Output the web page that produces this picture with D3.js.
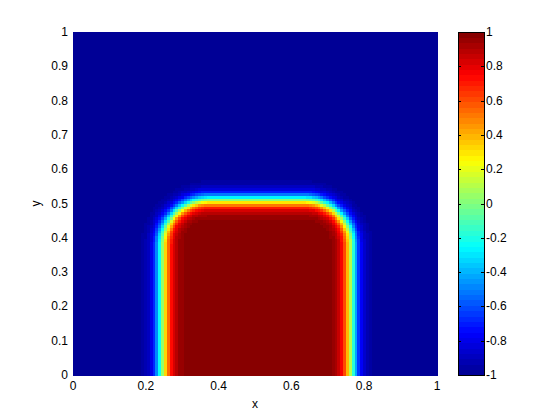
<!DOCTYPE html>
<head>
  <meta charset="utf-8">
  <style>
    body { margin: 0; background: #fff; font-family: "Liberation Sans", Arial, sans-serif; }
    svg text { font-size: 12px; fill: #000; }
  </style>
</head>
<svg width="560" height="420"></svg>
<script src="https://d3js.org/d3.v7.min.js"></script>
<script>
  // tick labels
  const xTicks = [0, 0.2, 0.4, 0.6, 0.8, 1];
  const yTicks = [0, 0.1, 0.2, 0.3, 0.4, 0.5, 0.6, 0.7, 0.8, 0.9, 1];
  const cbarTicks = [-1, -0.8, -0.6, -0.4, -0.2, 0, 0.2, 0.4, 0.6, 0.8, 1];

  // jet colormap anchor points (value -> colour)
  const jetValues = [-1, -0.75, -0.25, 0.25, 0.75, 1];
  const jetColors = ["#00008f", "#0000ff", "#00ffff", "#ffff00", "#ff0000", "#800000"];

  // shape of the field (phase = +1 inside, -1 outside)
  const boxLeft = 0.245, boxRight = 0.765, boxTop = 0.512, boxBottom = -0.5;
  const cornerRadius = 0.13;
  const interfaceWidth = 0.027;
  const gridN = 128;

  const margin = { left: 73, top: 32 },
    width = 364, height = 343;

  var svg = d3.select("svg");

  var x = d3.scaleLinear().domain([0, 1]).range([margin.left, margin.left + width]);
  var y = d3.scaleLinear().domain([0, 1]).range([margin.top + height, margin.top]);

  var jet = d3.scaleLinear().domain(jetValues).range(jetColors).clamp(true);
  // matlab uses 64 discrete colours
  var quant = d3.scaleQuantize().domain([-1, 1]).range(d3.range(64).map(function(i) {
    return jet(-1 + (i + 0.5) * 2 / 64);
  }));

  function phase(px, py) {
    // signed distance to a rounded box
    var cx = (boxLeft + boxRight) / 2, cy = (boxTop + boxBottom) / 2;
    var hx = (boxRight - boxLeft) / 2 - cornerRadius, hy = (boxTop - boxBottom) / 2 - cornerRadius;
    var qx = Math.abs(px - cx) - hx, qy = Math.abs(py - cy) - hy;
    var outside = Math.hypot(Math.max(qx, 0), Math.max(qy, 0));
    var inside = Math.min(Math.max(qx, qy), 0);
    var d = outside + inside - cornerRadius;
    return Math.tanh(-d / interfaceWidth);
  }

  var cells = [];
  for (var j = 0; j < gridN; j++) {
    for (var i = 0; i < gridN; i++) {
      var cxv = (i + 0.5) / gridN, cyv = (j + 0.5) / gridN;
      cells.push({ i: i, j: j, v: phase(cxv, cyv) });
    }
  }

  svg.append("g")
    .attr("shape-rendering", "crispEdges")
    .selectAll("rect")
    .data(cells)
    .enter().append("rect")
    .attr("x", function(d) { return x(d.i / gridN); })
    .attr("y", function(d) { return y((d.j + 1) / gridN); })
    .attr("width", function(d) { return x((d.i + 1) / gridN) - x(d.i / gridN) + 0.5; })
    .attr("height", function(d) { return y(d.j / gridN) - y((d.j + 1) / gridN) + 0.5; })
    .attr("fill", function(d) { return quant(d.v); });

  // tick labels (axis lines sit under the image, as in matlab)
  svg.append("g").selectAll("text")
    .data(xTicks)
    .enter().append("text")
    .attr("x", function(d) { return x(d); })
    .attr("y", margin.top + height + 15)
    .attr("text-anchor", "middle")
    .text(function(d) { return d; });

  svg.append("g").selectAll("text")
    .data(yTicks)
    .enter().append("text")
    .attr("x", margin.left - 5)
    .attr("y", function(d) { return y(d) + 4; })
    .attr("text-anchor", "end")
    .text(function(d) { return d; });

  svg.append("text")
    .attr("x", x(0.5))
    .attr("y", 408)
    .attr("text-anchor", "middle")
    .text("x");

  svg.append("text")
    .attr("transform", "translate(40," + y(0.5) + ") rotate(-90)")
    .attr("text-anchor", "middle")
    .text("y");

  // colorbar
  var cb = { left: 458, width: 26 };
  var cy = d3.scaleLinear().domain([-1, 1]).range([margin.top + height, margin.top]);
  var bands = d3.range(64);
  svg.append("g")
    .attr("shape-rendering", "crispEdges")
    .selectAll("rect")
    .data(bands)
    .enter().append("rect")
    .attr("x", cb.left)
    .attr("width", cb.width)
    .attr("y", function(d) { return cy(-1 + (d + 1) * 2 / 64); })
    .attr("height", function(d) { return cy(-1 + d * 2 / 64) - cy(-1 + (d + 1) * 2 / 64) + 0.5; })
    .attr("fill", function(d) { return quant(-1 + (d + 0.5) * 2 / 64); });

  svg.append("rect")
    .attr("x", cb.left + 0.5)
    .attr("y", margin.top + 0.5)
    .attr("width", cb.width)
    .attr("height", height)
    .attr("fill", "none")
    .attr("stroke", "#000")
    .attr("stroke-width", 1);

  var cbt = svg.append("g").selectAll("g")
    .data(cbarTicks)
    .enter().append("g");
  cbt.append("line")
    .attr("x1", cb.left).attr("x2", cb.left + 3)
    .attr("y1", function(d) { return Math.round(cy(d)) + 0.5; })
    .attr("y2", function(d) { return Math.round(cy(d)) + 0.5; })
    .attr("stroke", "#000");
  cbt.append("line")
    .attr("x1", cb.left + cb.width - 3).attr("x2", cb.left + cb.width)
    .attr("y1", function(d) { return Math.round(cy(d)) + 0.5; })
    .attr("y2", function(d) { return Math.round(cy(d)) + 0.5; })
    .attr("stroke", "#000");
  cbt.append("text")
    .attr("x", cb.left + cb.width + 2)
    .attr("y", function(d) { return cy(d) + 4; })
    .text(function(d) { return d; });
</script>
